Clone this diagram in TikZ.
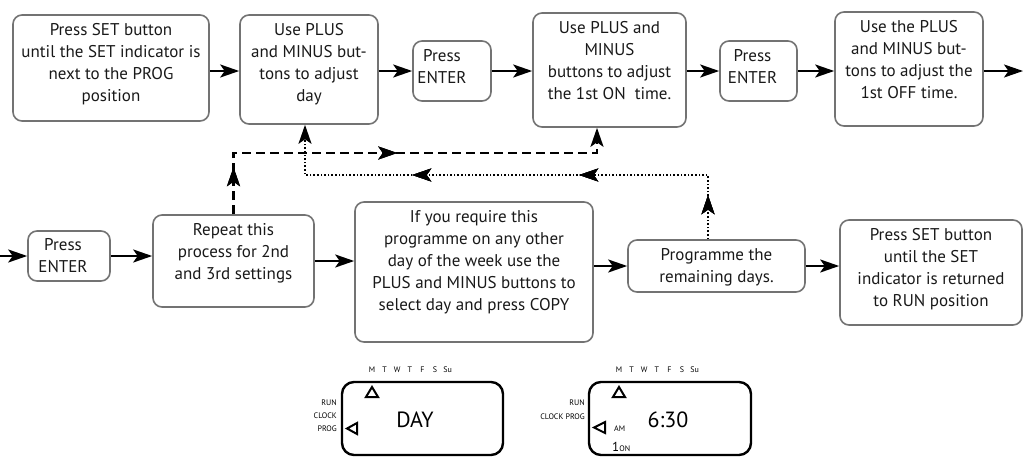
\documentclass[tikz,border=0pt]{standalone}
\usepackage{fontspec}
\setmainfont{PT Sans}
\usetikzlibrary{arrows.meta,decorations.markings}

\begin{document}
\begin{tikzpicture}[x=1pt,y=-1pt,
  box/.style 2 args={draw=black!55,line width=1.6pt,rounded corners=9pt,minimum width=#1,minimum height=#2,inner sep=0pt},
  txt/.style={anchor=north,align=center,inner sep=0pt,yshift=-9pt,text=black!90,font=\fontsize{17}{22}\selectfont},
  arr/.style={-{Stealth[length=19pt,width=13pt,inset=4.5pt]},line width=2.2pt},
  dsh/.style={line width=2.4pt,dash pattern=on 9pt off 5pt},
  dot/.style={line width=2pt,dash pattern=on 1.6pt off 2pt},
  tip/.style={decoration={markings,mark=at position #1 with {\arrow{Stealth[length=19pt,width=13pt,inset=4.5pt]}}},postaction={decorate}},
  lcd/.style={line width=2.4pt,rounded corners=12pt},
  sml/.style={inner sep=0pt,font=\fontsize{8}{9}\selectfont}]
\useasboundingbox (0,0) rectangle (1023,458);

% top row
\node[box={196}{106}] (setprog) at (111,68) {};
\node[txt] (setprog-t) at (setprog.north) {Press SET button\\until the SET indicator is\\next to the PROG\\position};
\node[box={138}{109}] (adjday) at (309,69.5) {};
\node[txt] (adjday-t) at (adjday.north) {Use PLUS\\and MINUS but-\\tons to adjust\\day};
\node[box={78}{60}] (enter1) at (452,71) {};
\node[txt,xshift=-10pt] (enter1-t) at (enter1.north) {Press\\ENTER};
\node[box={153}{114}] (adjon) at (609.5,70) {};
\node[txt] (adjon-t) at (adjon.north) {Use PLUS and\\MINUS\\buttons to adjust\\the 1st ON~~time.};
\node[box={77}{60}] (enter2) at (758.5,71) {};
\node[txt,xshift=-6pt] (enter2-t) at (enter2.north) {Press\\ENTER};
\node[box={148}{114}] (adjoff) at (909,69) {};
\node[txt] (adjoff-t) at (adjoff.north) {Use the PLUS\\and MINUS but-\\tons to adjust the\\1st OFF time.};

% middle row
\node[box={82}{50}] (enter3) at (69,256) {};
\node[txt,xshift=-6pt,yshift=1pt] (enter3-t) at (enter3.north) {Press\\ENTER};
\node[box={161}{92}] (repeat) at (233.5,261) {};
\node[txt] (repeat-t) at (repeat.north) {Repeat this\\process for 2nd\\and 3rd settings};
\node[box={238}{140}] (copy) at (474,272) {};
\node[txt] (copy-t) at (copy.north) {If you require this\\programme on any other\\day of the week use the\\PLUS and MINUS buttons to\\select day and press COPY};
\node[box={177}{52}] (remain) at (716.5,266) {};
\node[txt] (remain-t) at (remain.north) {Programme the\\remaining days.};
\node[box={182}{105}] (setrun) at (931,272.5) {};
\node[txt] (setrun-t) at (setrun.north) {Press SET button\\until the SET\\indicator is returned\\to RUN position};

\coordinate (lft) at (0,256);
\coordinate (rgt) at (1023,71);
\coordinate (dsh) at (0,153);
\coordinate (dot) at (0,175);

% this draws the main arrows
\draw[arr] (setprog.east |- enter1) -- (adjday.west |- enter1);
\draw[arr] (adjday.east |- enter1) -- (enter1);
\draw[arr] (enter1) -- (adjon.west |- enter1);
\draw[arr] (adjon.east |- enter2) -- (enter2);
\draw[arr] (enter2) -- (adjoff.west |- enter2);
\draw[arr] (adjoff.east |- rgt) -- (rgt);
\draw[arr] (lft) -- (enter3);
\draw[arr] (enter3) -- (repeat.west |- enter3);
\draw[arr] (repeat) -- (copy.west |- repeat);
\draw[arr] (copy.east |- remain) -- (remain);
\draw[arr] (remain) -- (setrun.west |- remain);

% this draws the two loops back
\draw[arr,dsh,tip=47pt,tip=225pt] (repeat.north) -- (repeat.north |- dsh) -| ([xshift=-12.5pt]adjon.south);
\draw[arr,dot,tip=44pt,tip=193pt,tip=360pt] ([xshift=-8.5pt]remain.north) -- ([xshift=-8.5pt]remain.north |- dot) -| ([xshift=-4pt]adjday.south);

% the two displays
\draw[lcd] (342,382) rectangle (503,455);
\draw[lcd] (589,382) rectangle (751,455);
\foreach \dx/\n in {0/1,247/2} {
  \draw[line width=2pt,line join=miter] (366+\dx,397) -- (372+\dx,387) -- (378+\dx,397) -- cycle;
  \foreach \i/\d in {0/M,1/T,2/W,3/T,4/F,5/S,6/Su}
    \node[sml] (day\n-\i) at (372+\dx+12.6*\i,370) {\d};
}
\draw[line width=2pt,line join=miter] (357,423) -- (347,428.5) -- (357,434) -- cycle;
\draw[line width=2pt,line join=miter] (605,422) -- (594,427.5) -- (605,433) -- cycle;

\node[sml,anchor=east] (run1) at (337,403) {RUN};
\node[sml,anchor=east] (clock1) at (337,416) {CLOCK};
\node[sml,anchor=east] (prog1) at (337,429) {PROG};
\node[inner sep=0pt,font=\fontsize{22}{24}\selectfont] (dayt) at (415,420) {DAY};

\node[sml,anchor=east] (run2) at (585,403) {RUN};
\node[sml,anchor=east] (clock2) at (585,417) {CLOCK PROG};
\node[sml,anchor=west] (am) at (614,429) {AM};
\node[inner sep=0pt,anchor=west] (on1) at (612,447) {\fontsize{13}{13}\selectfont 1\fontsize{8}{9}\selectfont ON};
\node[inner sep=0pt,font=\fontsize{22}{24}\selectfont] (time) at (668,420) {6:30};

\end{tikzpicture}
\end{document}
